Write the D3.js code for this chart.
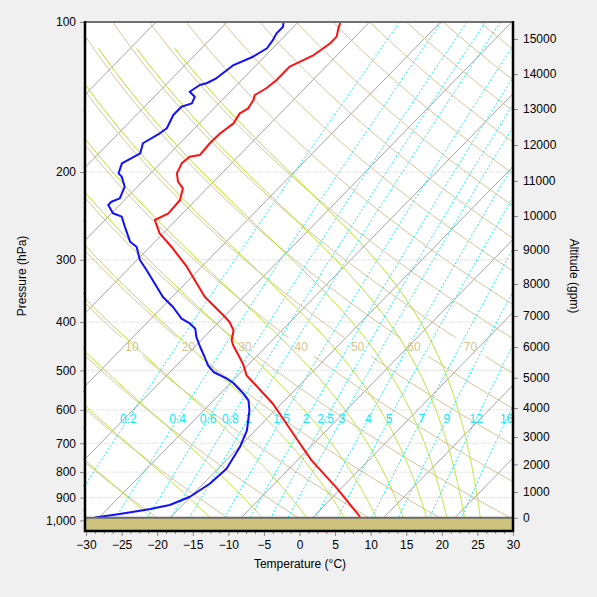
<!DOCTYPE html>
<html><head><meta charset="utf-8">
<script src="https://cdn.jsdelivr.net/npm/d3@7"></script>
<style>
body{margin:0;background:#f0f0f0;}
svg text{font-family:"Liberation Sans",Arial,sans-serif;}
</style>
</head><body>
<svg id="chart" width="597" height="597"></svg>
<script>
// ---------- data ----------
const pressureTicks = [100,200,300,400,500,600,700,800,900,1000];
const pressureLabels = ["100","200","300","400","500","600","700","800","900","1,000"];
const pressureMinor = [150,250,350,450,550,650,750,850,950];
const tempTicks = [-30,-25,-20,-15,-10,-5,0,5,10,15,20,25,30];
const altitudeTicks = [0,1000,2000,3000,4000,5000,6000,7000,8000,9000,10000,11000,12000,13000,14000,15000];
const altitudePressures = [987.4,876.9,771.6,680.1,594.9,517.2,448.8,388.9,335.5,286.7,245.0,208.4,176.5,149.5,127.2,108.2];
const surfacePressure = 987.4;

const isotherms = [-110,-100,-90,-80,-70,-60,-50,-40,-30,-20,-10,0,10,20,30];
const dryAdiabats = [-30,-20,-10,0,10,20,30,40,50,60,70,80,90,100,110,120,130,140,150,160,170,180];
const dryLabels = [10,20,30,40,50,60,70];
const moistAdiabats = [-30,-20,-10,0,10,20,30,40,50,60,70,80];
const mixingRatios = [0.2,0.4,0.6,0.8,1,1.5,2,2.5,3,4,5,7,9,12,16];
const mixingLabels = ["0.2","0.4","0.6","0.8","1","1.5","2","2.5","3","4","5","7","9","12","16"];

const tempPressure = [984.1,863.6,757.5,701.6,583.2,511.5,484.7,445.3,435.1,415.5,399.9,387.6,356.2,309.7,282.4,265.4,249.6,242.0,227.6,215.6,209.1,201.2,192.1,186.3,184.9,175.1,167.2,159.7,152.5,149.0,143.4,140.1,135.8,130.7,122.9,120.1,116.5,110.3,107.0,103.0,100.3];
const tempValues = [6.6,-0.5,-8.0,-11.9,-21.2,-28.8,-30.9,-34.8,-35.7,-36.8,-38.5,-40.3,-45.4,-52.1,-57.0,-60.5,-63.0,-62.0,-62.2,-63.4,-65.0,-66.3,-67.0,-66.8,-65.6,-65.8,-65.7,-65.2,-65.7,-65.2,-65.6,-66.1,-65.4,-65.1,-65.1,-64.3,-63.3,-62.6,-62.6,-63.5,-64.0];

const dewPressure = [986.5,970.7,956.0,948.5,931.2,896.2,844.0,787.5,712.3,659.4,601.2,574.1,556.8,530.0,519.5,503.7,488.3,470.0,448.8,428.6,412.4,403.0,393.8,373.1,356.2,314.5,300.3,282.4,275.9,257.4,245.8,242.0,232.9,229.4,225.8,214.0,204.3,201.2,192.1,183.4,175.1,167.2,163.4,153.7,147.9,145.6,141.2,138.0,133.8,132.7,129.7,122.0,117.4,112.9,108.7,105.4,102.2,100.3];
const dewValues = [-30.6,-27.6,-25.2,-24.0,-21.8,-20.1,-19.1,-18.8,-19.9,-21.2,-23.6,-25.1,-26.7,-29.6,-31.1,-33.9,-35.6,-37.2,-39.2,-41.1,-42.4,-43.8,-45.7,-48.5,-51.3,-57.3,-59.6,-61.9,-63.5,-66.3,-68.1,-69.8,-71.6,-71.6,-70.9,-71.8,-73.6,-74.5,-75.4,-74.2,-75.2,-74.2,-73.9,-74.8,-74.8,-73.8,-74.3,-75.7,-75.2,-74.5,-73.8,-73.2,-71.6,-70.8,-71.1,-71.5,-71.5,-72.0];

// ---------- layout ----------
const L=86, R=513, T0=22, B=531;
const PTOP=100, PBOT=1050, SKEW=29.7, KAPPA=0.2857;
const svg = d3.select("#chart");
const x = d3.scaleLinear().domain([-30,30]).range([L,R]);
const y = d3.scaleLog().domain([PTOP,PBOT]).range([T0,B]);
const sx = (t,p) => x(t + SKEW*Math.log(PBOT/p));

svg.append("defs").append("clipPath").attr("id","plot")
  .append("rect").attr("x",L).attr("y",T0).attr("width",R-L).attr("height",B-T0);
svg.append("rect").attr("x",L).attr("y",T0).attr("width",R-L).attr("height",B-T0).attr("fill","#fff");

const g = svg.append("g").attr("clip-path","url(#plot)");
const ps = d3.range(0,301).map(i => PTOP*Math.pow(PBOT/PTOP, i/300));
const line = d3.line().defined(d => d[2] !== false).x(d => d[0]).y(d => d[1]);

// horizontal grid
g.selectAll(".hgrid").data(pressureTicks.slice(1,-1)).join("line")
  .attr("x1",L).attr("x2",R).attr("y1",d=>y(d)).attr("y2",d=>y(d))
  .attr("stroke","#d8d8d8").attr("stroke-dasharray","1,1");

// isotherms
g.selectAll(".iso").data(isotherms).join("line")
  .attr("x1",d=>sx(d,PBOT)).attr("y1",y(PBOT)).attr("x2",d=>sx(d,PTOP)).attr("y2",y(PTOP))
  .attr("stroke","#a4a4a4").attr("stroke-width",1);

// dry adiabats
const dryLabelY = 347;
const dryT = (th,p) => (th+273.15)*Math.pow(p/1013.25,KAPPA)-273.15;
g.selectAll(".dry").data(dryAdiabats).join("path")
  .attr("d", th => line(ps.map(p => {
      const yy = y(p);
      const gap = dryLabels.includes(th) && Math.abs(yy-dryLabelY) < 8;
      return [sx(dryT(th,p),p), yy, !gap];
  })))
  .attr("fill","none").attr("stroke","#d5c296").attr("stroke-width",1);

// moist adiabats (pseudo-adiabatic, integrated from top)
function dTdp(p,Tk){
  const Rd=287.04, Cp=1005.7, Lv=2.501e6, eps=0.622;
  const tc=Tk-273.15;
  const es=6.112*Math.exp(17.67*tc/(tc+243.5));
  const rs=eps*es/(p-es);
  return ((Rd*Tk+Lv*rs)/p)/(Cp+(Lv*Lv*rs*eps)/(Rd*Tk*Tk));
}
const MOIST_TOP = 113;
g.selectAll(".moist").data(moistAdiabats).join("path")
  .attr("d", th => {
    let p=MOIST_TOP, Tk=(th+273.15)*Math.pow(p/1000,KAPPA);
    const pts=[[sx(Tk-273.15,p),y(p)]];
    const dp=2;
    while(p<PBOT){
      const k1=dTdp(p,Tk), k2=dTdp(p+dp/2,Tk+k1*dp/2), k3=dTdp(p+dp/2,Tk+k2*dp/2), k4=dTdp(p+dp,Tk+k3*dp);
      Tk += dp*(k1+2*k2+2*k3+k4)/6; p += dp;
      pts.push([sx(Tk-273.15,p),y(p)]);
    }
    return line(pts);
  })
  .attr("fill","none").attr("stroke","#b4e01e").attr("stroke-width",1);

// mixing ratio lines
const mixT = (w,p) => { const e=w*p/(622+w); const l=Math.log(e/6.112); return 243.5*l/(17.67-l); };
g.selectAll(".mix").data(mixingRatios).join("path")
  .attr("d", w => line(ps.map(p => [sx(mixT(w,p),p), y(p)])))
  .attr("fill","none").attr("stroke","#00f0f0").attr("stroke-width",1).attr("stroke-dasharray","2,2");

// labels
const mixLabelY = 419, mixLabelP = y.invert(mixLabelY);
g.selectAll(".mixlab").data(mixingRatios).join("text")
  .attr("x", w => sx(mixT(w,mixLabelP),mixLabelP)).attr("y",mixLabelY).attr("dy","0.35em")
  .attr("text-anchor","middle").attr("font-size",12).attr("fill","#14e6f5")
  .text((w,i)=>mixingLabels[i]);
const dryLabelP = y.invert(dryLabelY);
g.selectAll(".drylab").data(dryLabels).join("text")
  .attr("x", th => sx(dryT(th,dryLabelP),dryLabelP)).attr("y",dryLabelY).attr("dy","0.35em")
  .attr("text-anchor","middle").attr("font-size",12).attr("fill","#d5c38f")
  .text(d=>d);

// profiles
const prof = d3.line().x(d=>sx(d[1],d[0])).y(d=>y(d[0]));
g.append("path").attr("d",prof(dewPressure.map((p,i)=>[p,dewValues[i]])))
  .attr("fill","none").attr("stroke","#1010ff").attr("stroke-width",2).attr("stroke-linejoin","round");
g.append("path").attr("d",prof(tempPressure.map((p,i)=>[p,tempValues[i]])))
  .attr("fill","none").attr("stroke","#ff1010").attr("stroke-width",2).attr("stroke-linejoin","round");

// ground
g.append("rect").attr("x",L).attr("y",y(surfacePressure)).attr("width",R-L).attr("height",B-y(surfacePressure))
  .attr("fill","#cdc27e");
g.append("line").attr("x1",L).attr("x2",R).attr("y1",y(surfacePressure)).attr("y2",y(surfacePressure))
  .attr("stroke","#6a6a6a").attr("stroke-width",2);

// axes
function styleAxis(sel){
  sel.select(".domain").remove();
  sel.selectAll(".tick line").attr("stroke","#8a8a8a");
  sel.selectAll(".tick text").attr("fill","#000").attr("font-size",12)
    .attr("font-family","'Liberation Sans',Arial,sans-serif");
}
svg.append("g").attr("transform",`translate(${L},0)`)
  .call(d3.axisLeft(y).tickValues(pressureMinor).tickSize(3).tickFormat("")).call(styleAxis);
svg.append("g").attr("transform",`translate(${L},0)`)
  .call(d3.axisLeft(y).tickValues(pressureTicks).tickFormat((d,i)=>pressureLabels[i]).tickSize(6).tickPadding(4))
  .call(styleAxis);

const tempMinor = d3.range(-30,30.01,1.25).filter(v => Math.abs(v/5-Math.round(v/5))>1e-6);
svg.append("g").attr("transform",`translate(0,${B})`)
  .call(d3.axisBottom(x).tickValues(tempMinor).tickSize(3).tickFormat("")).call(styleAxis);
svg.append("g").attr("transform",`translate(0,${B})`)
  .call(d3.axisBottom(x).tickValues(tempTicks).tickSize(5).tickPadding(4)).call(styleAxis);

svg.append("g").attr("transform",`translate(${R},0)`)
  .call(d3.axisRight(y).tickValues(altitudePressures).tickFormat((d,i)=>altitudeTicks[i]).tickSize(5).tickPadding(5))
  .call(styleAxis);

// borders
svg.append("line").attr("x1",L).attr("x2",R).attr("y1",T0).attr("y2",T0).attr("stroke","#707070").attr("stroke-width",2);
svg.append("line").attr("x1",L-1).attr("x2",L-1).attr("y1",T0-1).attr("y2",B+1).attr("stroke","#000").attr("stroke-width",2.5);
svg.append("line").attr("x1",R).attr("x2",R).attr("y1",T0-1).attr("y2",B+1).attr("stroke","#000").attr("stroke-width",2.5);
svg.append("line").attr("x1",L-2).attr("x2",R+1).attr("y1",B).attr("y2",B).attr("stroke","#000").attr("stroke-width",2.5);

// titles
svg.append("text").attr("x",300).attr("y",568).attr("text-anchor","middle").attr("font-size",12).text("Temperature (°C)");
svg.append("text").attr("transform","translate(26,276) rotate(-90)").attr("text-anchor","middle").attr("font-size",12).text("Pressure (hPa)");
svg.append("text").attr("transform","translate(570,276) rotate(90)").attr("text-anchor","middle").attr("font-size",12).text("Altitude (gpm)");
</script>
</body></html>
